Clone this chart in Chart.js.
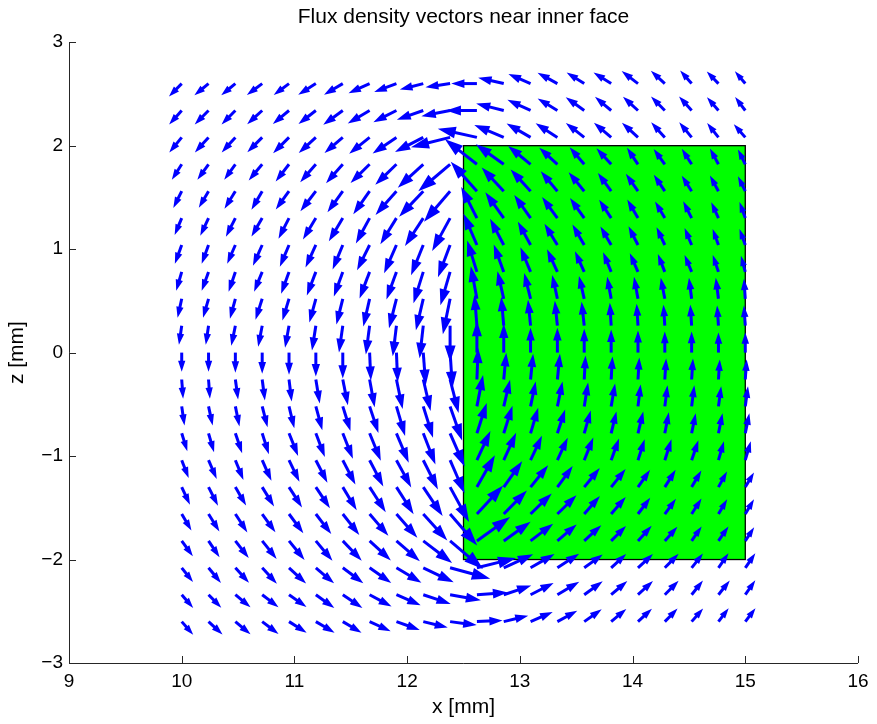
<!DOCTYPE html>
<html><head><meta charset="utf-8">
<script src="https://cdn.jsdelivr.net/npm/chart.js@4.4.1/dist/chart.umd.min.js"></script>
<style>html,body{margin:0;padding:0;background:#fff;}canvas{display:block;}</style>
</head><body>
<canvas id="c" width="877" height="724"></canvas>
<script>
// ---------------- data ----------------
const titleText = 'Flux density vectors near inner face';
const xLabel = 'x [mm]';
const zLabel = 'z [mm]';
const xTicks = [9, 10, 11, 12, 13, 14, 15, 16];
const zTicks = [-3, -2, -1, 0, 1, 2, 3];
// grid of arrow tails
const xGrid = [10, 10.238, 10.476, 10.714, 10.952, 11.190, 11.429, 11.667, 11.905, 12.143, 12.381,
               12.619, 12.857, 13.095, 13.333, 13.571, 13.810, 14.048, 14.286, 14.524, 14.762, 15];
const zGrid = [2.6, 2.34, 2.08, 1.82, 1.56, 1.3, 1.04, 0.78, 0.52, 0.26, 0,
               -0.26, -0.52, -0.78, -1.04, -1.3, -1.56, -1.82, -2.08, -2.34, -2.6];
// magnet cross-section
const magnetX = [12.5, 15];
const magnetZ = [-2, 2];
// flux density components (arbitrary units), one row per zGrid value, one column per xGrid value
const Bx = [
 [-9,-10,-10,-11,-11,-13,-14,-16,-17,-18,-19,-20,-20,-17,-15,-13,-13,-12,-10,-8,-8,-7],
 [-9,-10,-10,-11,-12,-13,-15,-17,-18,-21,-23,-25,-22,-18,-15,-14,-12,-11,-10,-9,-8,-7],
 [-9,-10,-10,-11,-12,-13,-14,-16,-19,-23,-33,-33,-24,-19,-17,-14,-13,-12,-10,-9,-8,-8],
 [-7,-8,-8,-10,-10,-12,-13,-15,-17,-21,-27,-27,-23,-18,-14,-11,-11,-8,-8,-7,-6,-5],
 [-6,-7,-8,-8,-10,-12,-12,-13,-17,-20,-22,-22,-18,-16,-13,-12,-10,-9,-8,-7,-6,-5],
 [-5,-6,-7,-8,-8,-10,-11,-11,-13,-15,-15,-13,-15,-13,-12,-11,-9,-8,-7,-6,-5,-4],
 [-5,-5,-6,-7,-7,-8,-8,-10,-10,-10,-10,-11,-11,-10,-10,-9,-8,-7,-6,-5,-4,-4],
 [-4,-5,-5,-6,-6,-7,-7,-8,-8,-8,-8,-8,-8,-8,-8,-7,-6,-6,-5,-5,-4,-3],
 [-3,-4,-4,-5,-5,-5,-5,-5,-6,-6,-6,-5,-5,-5,-4,-4,-3,-3,-3,-2,-2,-1],
 [-2,-2,-3,-3,-3,-3,-3,-3,-3,-3,0,-2,-2,-2,-2,-2,-1,-1,-1,-1,-1,-1],
 [0,0,0,0,0,0,0,1,1,2,2,0,0,0,0,0,0,0,0,0,0,0],
 [1,1,2,2,2,3,4,4,5,6,7,1,2,2,2,1,1,1,1,1,1,1],
 [2,3,3,4,4,5,6,7,7,8,10,5,5,4,4,3,3,2,2,2,2,2],
 [4,4,5,5,7,7,8,9,10,10,12,8,7,6,6,5,4,4,3,3,3,3],
 [5,6,6,7,8,9,10,11,12,12,12,11,10,9,8,7,6,5,5,5,4,4],
 [6,7,8,9,10,11,11,13,14,16,16,15,15,14,12,12,11,9,8,7,6,6],
 [7,8,9,10,11,12,13,15,17,20,23,22,19,17,15,12,11,9,8,7,6,6],
 [8,8,10,11,12,13,15,17,19,24,28,28,22,18,15,13,11,10,9,7,7,6],
 [8,9,10,11,13,14,16,17,20,25,34,33,24,19,17,14,11,11,10,8,7,7],
 [8,9,11,12,13,14,15,17,19,22,25,25,22,18,17,14,12,11,10,8,8,7],
 [8,10,11,12,13,14,14,16,18,19,21,20,19,17,15,13,11,10,9,8,7,7]
];
const Bz = [
 [-10,-9,-9,-9,-9,-9,-9,-8,-7,-5,-3,0,5,8,9,9,9,10,10,10,9,9],
 [-11,-11,-11,-11,-11,-11,-12,-11,-10,-8,-5,0,6,9,10,11,11,11,11,11,10,10],
 [-12,-12,-12,-12,-13,-13,-13,-14,-14,-13,-9,8,11,12,12,12,12,12,12,12,11,10],
 [-12,-12,-12,-13,-14,-15,-16,-16,-18,-21,-25,23,18,16,14,14,13,13,12,12,12,11],
 [-13,-13,-14,-15,-15,-17,-18,-20,-21,-23,-28,27,21,19,17,16,15,14,13,12,12,11],
 [-13,-14,-15,-15,-17,-18,-20,-22,-23,-25,-30,28,23,20,18,17,15,15,13,13,12,12],
 [-15,-15,-15,-17,-18,-19,-21,-22,-25,-27,-29,28,23,20,18,17,15,15,14,13,12,12],
 [-15,-15,-16,-16,-18,-20,-21,-23,-24,-28,-30,28,24,21,19,17,16,15,14,13,13,12],
 [-15,-15,-16,-17,-18,-20,-22,-24,-26,-28,-32,29,24,22,20,19,18,18,17,17,17,16],
 [-15,-15,-16,-17,-18,-21,-23,-25,-27,-29,-33,27,25,22,21,20,19,18,17,17,16,16],
 [-15,-15,-16,-17,-18,-20,-22,-24,-26,-29,-32,28,25,21,21,20,19,18,17,17,16,16],
 [-15,-15,-16,-17,-18,-20,-22,-24,-26,-28,-30,28,23,22,22,20,19,18,17,17,16,16],
 [-15,-15,-16,-17,-18,-20,-21,-23,-26,-28,-31,28,23,21,21,20,19,18,17,17,16,16],
 [-14,-15,-16,-17,-19,-20,-22,-24,-26,-28,-30,27,24,22,20,19,18,18,17,16,16,16],
 [-14,-15,-16,-17,-18,-19,-21,-23,-24,-26,-30,26,24,21,19,19,18,17,17,16,15,15],
 [-14,-15,-15,-16,-17,-18,-20,-22,-24,-26,-32,29,23,19,18,16,15,14,14,13,12,11],
 [-13,-14,-15,-15,-16,-17,-18,-19,-21,-24,-29,26,21,18,16,15,14,13,12,12,11,11],
 [-12,-13,-14,-15,-16,-17,-17,-17,-18,-20,-26,22,17,15,14,13,12,12,11,11,11,10],
 [-11,-12,-12,-13,-13,-13,-13,-13,-13,-13,-10,9,12,12,12,11,11,11,11,11,11,11],
 [-10,-10,-10,-10,-10,-11,-11,-10,-9,-8,-5,2,8,10,11,11,11,11,11,11,11,11],
 [-10,-10,-10,-10,-9,-9,-9,-8,-7,-5,-3,1,5,8,9,10,10,10,10,10,10,10]
];

// ---------------- styling / drawing ----------------
const quiverScale = 0.00926;      // mm per field unit
const arrowColor = '#0000ff';
const FONT = '"Liberation Sans", Arial, Helvetica, sans-serif';
const MINUS = '\u2212';

const tails = [];
zGrid.forEach((z) => xGrid.forEach((x) => tails.push({x: x, y: z})));

const magnetPlugin = {
  id: 'magnet',
  beforeDatasetsDraw(chart) {
    const {ctx, scales: {x, y}} = chart;
    const x0 = x.getPixelForValue(magnetX[0]), x1 = x.getPixelForValue(magnetX[1]);
    const y0 = y.getPixelForValue(magnetZ[1]), y1 = y.getPixelForValue(magnetZ[0]);
    ctx.save();
    ctx.fillStyle = '#00ff00';
    ctx.fillRect(x0, y0, x1 - x0, y1 - y0);
    ctx.strokeStyle = '#000';
    ctx.lineWidth = 1.3;
    ctx.strokeRect(x0, y0, x1 - x0, y1 - y0);
    ctx.restore();
  }
};

const quiverPlugin = {
  id: 'quiver',
  afterDatasetsDraw(chart) {
    const {ctx, scales: {x, y}} = chart;
    ctx.save();
    ctx.strokeStyle = arrowColor;
    ctx.fillStyle = arrowColor;
    ctx.lineWidth = 3;
    ctx.lineJoin = 'miter';
    ctx.miterLimit = 6;
    ctx.lineCap = 'butt';
    const alpha = 0.33, beta = 0.33;
    zGrid.forEach((zv, r) => {
      xGrid.forEach((xv, k) => {
        const u = Bx[r][k] * quiverScale, v = Bz[r][k] * quiverScale;
        const px0 = x.getPixelForValue(xv), py0 = y.getPixelForValue(zv);
        const px1 = x.getPixelForValue(xv + u), py1 = y.getPixelForValue(zv + v);
        const dx = px1 - px0, dy = py1 - py0;
        const hx1 = px1 - alpha * (dx + beta * dy), hy1 = py1 - alpha * (dy - beta * dx);
        const hx2 = px1 - alpha * (dx - beta * dy), hy2 = py1 - alpha * (dy + beta * dx);
        // shaft
        ctx.beginPath();
        ctx.moveTo(px0, py0);
        ctx.lineTo(px1 - alpha * dx * 0.6, py1 - alpha * dy * 0.6);
        ctx.stroke();
        // head
        ctx.beginPath();
        ctx.moveTo(hx1, hy1);
        ctx.lineTo(px1, py1);
        ctx.lineTo(hx2, hy2);
        ctx.closePath();
        ctx.fill();
        ctx.stroke();
      });
    });
    ctx.restore();
  }
};

const axesPlugin = {
  id: 'axesLines',
  afterDraw(chart) {
    const {ctx, chartArea: a, scales: {x, y}} = chart;
    ctx.save();
    ctx.strokeStyle = '#262626';
    ctx.lineWidth = 1;
    ctx.beginPath();
    ctx.moveTo(Math.round(a.left) + 0.5, a.top);
    ctx.lineTo(Math.round(a.left) + 0.5, Math.round(a.bottom) + 0.5);
    ctx.lineTo(a.right, Math.round(a.bottom) + 0.5);
    xTicks.forEach((t) => {
      const p = Math.round(x.getPixelForValue(t)) + 0.5;
      ctx.moveTo(p, Math.round(a.bottom));
      ctx.lineTo(p, Math.round(a.bottom) - 7);
    });
    zTicks.forEach((t) => {
      const p = Math.round(y.getPixelForValue(t)) + 0.5;
      ctx.moveTo(Math.round(a.left), p);
      ctx.lineTo(Math.round(a.left) + 7, p);
    });
    ctx.stroke();
    ctx.restore();
  }
};

new Chart(document.getElementById('c').getContext('2d'), {
  type: 'scatter',
  data: { datasets: [{ label: 'grid', data: tails, pointRadius: 0, pointHoverRadius: 0, showLine: false }] },
  options: {
    responsive: false,
    animation: false,
    events: [],
    layout: { padding: { left: 0, right: 19, top: 0, bottom: 0 } },
    plugins: {
      legend: { display: false },
      tooltip: { enabled: false },
      title: {
        display: true, text: titleText, color: '#000', fullSize: false,
        font: { family: FONT, size: 21, weight: 'normal', lineHeight: 1.2 },
        padding: { top: 5, bottom: 12 }
      }
    },
    scales: {
      x: {
        type: 'linear', min: 9, max: 16,
        afterBuildTicks: (s) => { s.ticks = xTicks.map((v) => ({value: v})); },
        ticks: { color: '#000', font: { family: FONT, size: 19 }, padding: 7, maxRotation: 0,
                 callback: (v) => (v < 0 ? MINUS + Math.abs(v) : String(v)) },
        grid: { display: false, drawTicks: false },
        border: { display: false },
        title: { display: true, text: xLabel, color: '#000', font: { family: FONT, size: 21 }, padding: { top: 0, bottom: 4 } },
        afterFit: (s) => { s.height = 61; }
      },
      y: {
        type: 'linear', min: -3, max: 3,
        afterBuildTicks: (s) => { s.ticks = zTicks.map((v) => ({value: v})); },
        ticks: { color: '#000', font: { family: FONT, size: 19 }, padding: 6,
                 callback: (v) => (v < 0 ? MINUS + Math.abs(v) : String(v)) },
        grid: { display: false, drawTicks: false },
        border: { display: false },
        title: { display: true, text: zLabel, color: '#000', font: { family: FONT, size: 21 }, padding: { top: 5, bottom: 0 } },
        afterFit: (s) => { s.width = 69; }
      }
    }
  },
  plugins: [magnetPlugin, quiverPlugin, axesPlugin]
});
</script>
</body></html>
